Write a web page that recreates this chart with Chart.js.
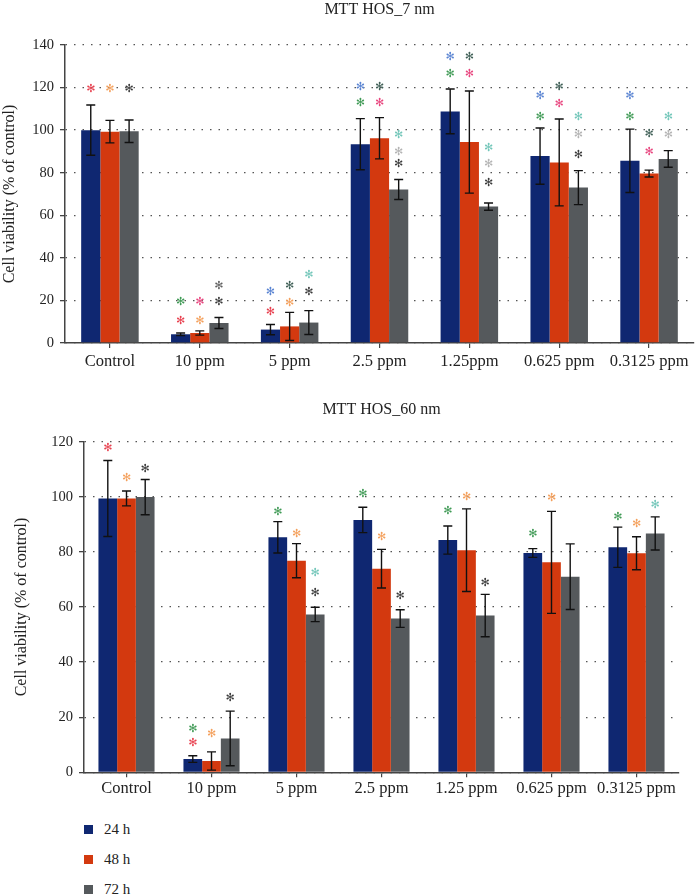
<!DOCTYPE html>
<html>
<head>
<meta charset="utf-8">
<title>MTT HOS</title>
<script src="https://cdn.jsdelivr.net/npm/chart.js@4.4.1/dist/chart.umd.min.js"></script>
<style>
  body { margin: 0; background: #fff; width: 695px; height: 895px; position: relative; overflow: hidden; font-family: 'Liberation Serif', serif; }
  .box { position: absolute; left: 0; width: 695px; }
  #top { top: 0; height: 370px; }
  #bottom { top: 370px; height: 430px; }
  #legend { position: absolute; left: 84px; top: 814px; font-size: 15px; color: #222; }
  #legend div { height: 30px; display: flex; align-items: center; }
  #legend .sw { width: 9px; height: 9px; margin-right: 11px; display: inline-block; }
</style>
</head>
<body>
<div class="box" id="top"><canvas id="chart7"></canvas></div>
<div class="box" id="bottom"><canvas id="chart60"></canvas></div>
<div id="legend"></div>

<script>
// Series
const seriesLabels = ['24 h', '48 h', '72 h'];
const seriesColors = ['#0f2771', '#d3390f', '#55595c'];

// MTT HOS_7 nm
const categories7 = ['Control', '10 ppm', '5 ppm', '2.5 ppm', '1.25ppm', '0.625 ppm', '0.3125 ppm'];
const hos7Mean24 = [100, 4.1, 6.3, 93.4, 108.8, 87.8, 85.6];
const hos7Err24 = [11.8, 0.6, 2.4, 12, 10.5, 13.2, 14.9];
const hos7Mean48 = [99.3, 4.7, 7.8, 96.2, 94.4, 84.8, 79.6];
const hos7Err48 = [5.3, 1, 6.6, 9.7, 24, 20.4, 1.6];
const hos7Mean72 = [99.5, 9.4, 9.6, 72.1, 64.1, 73, 86.5];
const hos7Err72 = [5.3, 2.6, 5.6, 4.7, 1.7, 8, 3.9];

// MTT HOS_60 nm
const categories60 = ['Control', '10 ppm', '5 ppm', '2.5 ppm', '1.25 ppm', '0.625 ppm', '0.3125 ppm'];
const hos60Mean24 = [99.4, 4.8, 85.3, 91.6, 84.3, 79.6, 81.7];
const hos60Err24 = [13.8, 1.2, 5.7, 4.6, 5.1, 1.6, 7.3];
const hos60Mean48 = [99.4, 4.1, 76.8, 73.9, 80.6, 76.2, 79.5];
const hos60Err48 = [2.7, 3.3, 6.2, 7, 15, 18.5, 6];
const hos60Mean72 = [99.9, 12.3, 57.3, 55.8, 56.9, 71, 86.7];
const hos60Err72 = [6.4, 9.9, 2.6, 3.2, 7.7, 11.9, 6];

// Significance marks: [category, series, value, colour]
const stars7 = [
  [0, 0, 119.4, 'red'], [0, 1, 119.4, 'orange'], [0, 2, 119.4, 'dark'],
  [1, 0, 19, 'green'], [1, 0, 10.3, 'red'], [1, 1, 19.4, 'pink'], [1, 1, 10.3, 'orange'], [1, 2, 26.8, 'gray'], [1, 2, 19, 'dark'],
  [2, 0, 24, 'blue'], [2, 0, 14.6, 'red'], [2, 1, 26.8, 'slate'], [2, 1, 18.5, 'orange'], [2, 2, 31.8, 'teal'], [2, 2, 23.8, 'dark'],
  [3, 0, 120, 'blue'], [3, 0, 112.5, 'green'], [3, 1, 120, 'slate'], [3, 1, 112.5, 'pink'], [3, 2, 97.6, 'teal'], [3, 2, 89.5, 'light'], [3, 2, 84, 'dark'],
  [4, 0, 134.5, 'blue'], [4, 0, 126.2, 'green'], [4, 1, 134.2, 'slate'], [4, 1, 126.2, 'pink'], [4, 2, 91.4, 'teal'], [4, 2, 83.9, 'light'], [4, 2, 74.9, 'dark'],
  [5, 0, 115.8, 'blue'], [5, 0, 106, 'green'], [5, 1, 120, 'slate'], [5, 1, 112, 'pink'], [5, 2, 106, 'teal'], [5, 2, 97.6, 'light'], [5, 2, 88.1, 'dark'],
  [6, 0, 115.8, 'blue'], [6, 0, 106, 'green'], [6, 1, 98, 'slate'], [6, 1, 89.5, 'pink'], [6, 2, 106, 'teal'], [6, 2, 97.6, 'light']
];
const stars60 = [
  [0, 0, 117.8, 'red'], [0, 1, 106.6, 'orange'], [0, 2, 110, 'dark'],
  [1, 0, 15.6, 'green'], [1, 0, 10.5, 'red'], [1, 1, 13.8, 'orange'], [1, 2, 26.9, 'dark'],
  [2, 0, 94.6, 'green'], [2, 1, 86.4, 'orange'], [2, 2, 72.2, 'teal'], [2, 2, 65.2, 'dark'],
  [3, 0, 100.9, 'green'], [3, 1, 85.3, 'orange'], [3, 2, 64, 'dark'],
  [4, 0, 94.7, 'green'], [4, 1, 100, 'orange'], [4, 2, 68.6, 'dark'],
  [5, 0, 86.4, 'green'], [5, 1, 99.4, 'orange'],
  [6, 0, 92.5, 'green'], [6, 1, 90, 'orange'], [6, 2, 96.9, 'teal']
];

const starColors = {
  red: '#e8404f', orange: '#f4a05c', dark: '#3a3a3a', gray: '#606060', green: '#3f9a55',
  pink: '#e8457e', blue: '#5a84d2', slate: '#3f5f56', teal: '#72c6b9', light: '#b4b4b4'
};

const serif = 'Liberation Serif';

// Error bars + asterisks drawn on top of the bars
function marksPlugin(errors, stars) {
  return {
    id: 'marks',
    afterDatasetsDraw(chart) {
      const ctx = chart.ctx;
      const y = chart.scales.y;
      ctx.save();
      ctx.strokeStyle = '#111';
      ctx.lineWidth = 1.4;
      errors.forEach((errs, i) => {
        chart.getDatasetMeta(i).data.forEach((bar, j) => {
          const v = chart.data.datasets[i].data[j];
          const hi = y.getPixelForValue(v + errs[j]);
          const lo = y.getPixelForValue(v - errs[j]);
          ctx.beginPath();
          ctx.moveTo(bar.x, hi); ctx.lineTo(bar.x, lo);
          ctx.moveTo(bar.x - 4.5, hi); ctx.lineTo(bar.x + 4.5, hi);
          ctx.moveTo(bar.x - 4.5, lo); ctx.lineTo(bar.x + 4.5, lo);
          ctx.stroke();
        });
      });
      ctx.font = '11px "DejaVu Sans"';
      ctx.textAlign = 'center';
      ctx.textBaseline = 'middle';
      stars.forEach(([c, s, v, col]) => {
        const bar = chart.getDatasetMeta(s).data[c];
        ctx.fillStyle = starColors[col];
        ctx.fillText('\u273B', bar.x, y.getPixelForValue(v));
      });
      ctx.restore();
    }
  };
}

function buildChart(id, cfg) {
  return new Chart(document.getElementById(id), {
    type: 'bar',
    data: {
      labels: cfg.labels,
      datasets: cfg.means.map((m, i) => ({
        label: seriesLabels[i],
        data: m,
        backgroundColor: seriesColors[i],
        borderWidth: 0,
        categoryPercentage: cfg.catPct,
        barPercentage: 1
      }))
    },
    options: {
      responsive: true,
      maintainAspectRatio: false,
      animation: false,
      layout: { padding: { left: 0, right: cfg.padRight, top: 0, bottom: 0 } },
      plugins: {
        legend: { display: false },
        tooltip: { enabled: false },
        title: {
          display: true,
          fullSize: false,
          text: cfg.title,
          color: '#222',
          font: { family: serif, size: 16, weight: 'normal' },
          padding: cfg.titlePad
        }
      },
      scales: {
        x: {
          grid: {
            drawOnChartArea: false, drawTicks: true, tickLength: 5, offset: false,
            color: '#444', lineWidth: 1.2
          },
          border: { color: '#444', width: 1.5 },
          ticks: {
            color: '#222', font: { family: serif, size: 16.5 }, padding: cfg.xPad,
            maxRotation: 0, autoSkip: false
          },
          afterFit: s => { s.height = cfg.xHeight; }
        },
        y: {
          min: 0,
          max: cfg.yMax,
          ticks: { stepSize: 20, color: '#222', font: { family: serif, size: 14.5 }, padding: 6 },
          grid: { color: '#555', lineWidth: 1.3, tickLength: 5, tickColor: '#444', tickBorderDash: [] },
          border: { color: '#444', width: 1.5, dash: [1.5, 7] },
          title: {
            display: true,
            text: 'Cell viability (% of control)',
            color: '#222',
            font: { family: serif, size: 16 },
            padding: { top: cfg.yTitlePad, bottom: 0 }
          },
          afterFit: s => { s.width = cfg.yWidth; }
        }
      }
    },
    plugins: [marksPlugin(cfg.errors, cfg.stars)]
  });
}

buildChart('chart7', {
  title: 'MTT HOS_7 nm',
  labels: categories7,
  means: [hos7Mean24, hos7Mean48, hos7Mean72],
  errors: [hos7Err24, hos7Err48, hos7Err72],
  stars: stars7,
  yMax: 140,
  catPct: 0.64,
  padRight: 1,
  titlePad: { top: 0, bottom: 25.8 },
  xHeight: 27,
  xPad: 4,
  yWidth: 65,
  yTitlePad: 0
});

buildChart('chart60', {
  title: 'MTT HOS_60 nm',
  labels: categories60,
  means: [hos60Mean24, hos60Mean48, hos60Mean72],
  errors: [hos60Err24, hos60Err48, hos60Err72],
  stars: stars60,
  yMax: 120,
  catPct: 0.66,
  padRight: 16,
  titlePad: { top: 30.4, bottom: 22.1 },
  xHeight: 27.7,
  xPad: 1,
  yWidth: 84,
  yTitlePad: 12
});

// Legend
const legend = document.getElementById('legend');
seriesLabels.forEach((label, i) => {
  const row = document.createElement('div');
  row.innerHTML = '<span class="sw" style="background:' + seriesColors[i] + '"></span>' + label;
  legend.appendChild(row);
});
</script>
</body>
</html>
